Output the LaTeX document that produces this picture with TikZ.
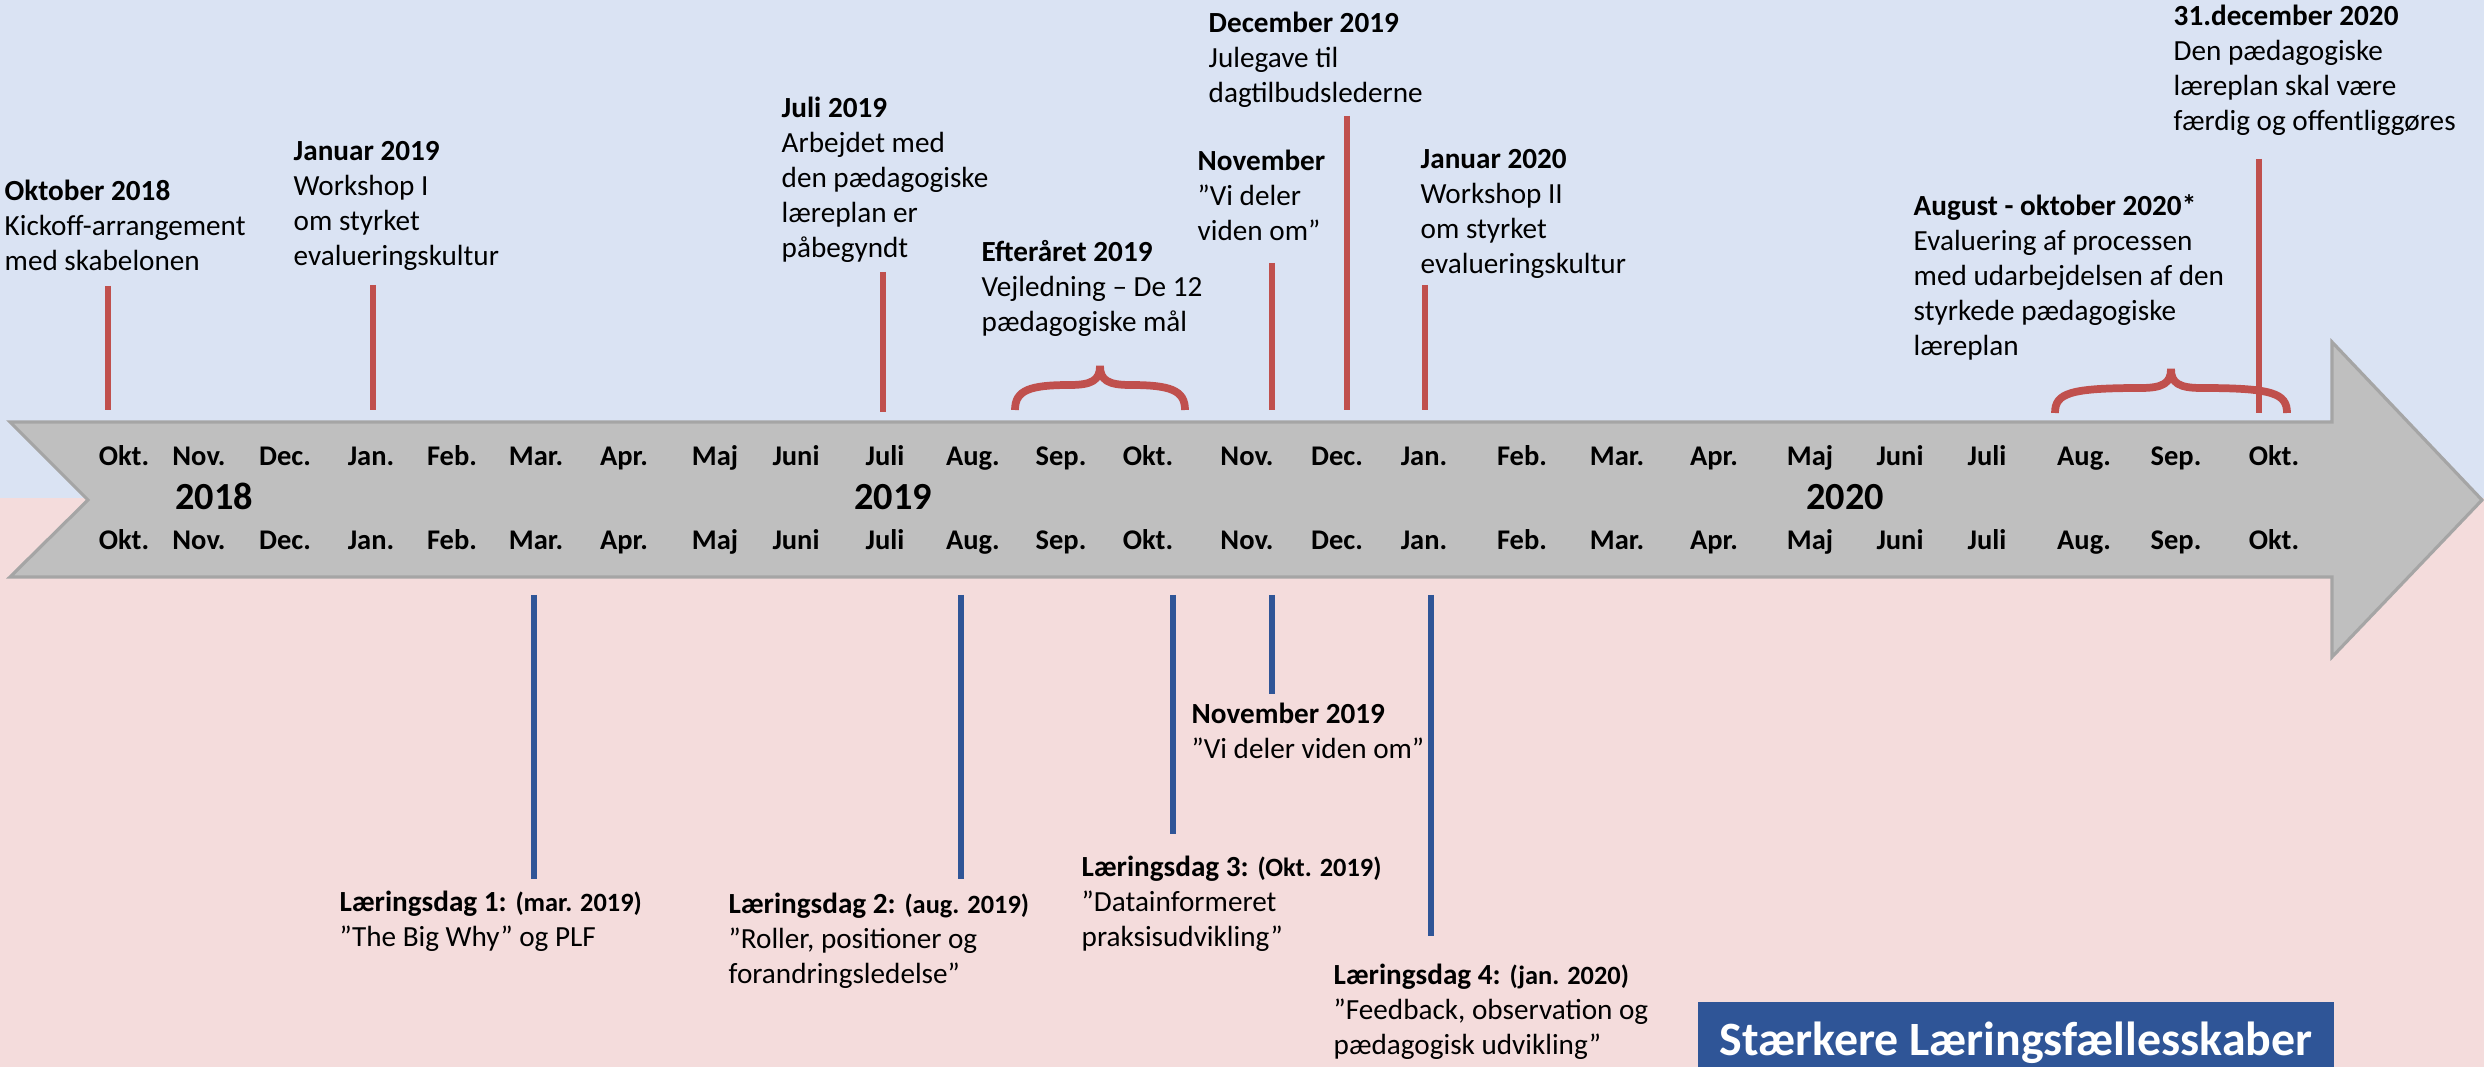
\documentclass[tikz,border=0pt]{standalone}
\usepackage{fontspec}
\setmainfont{Carlito}
\usepackage{tikz}
\usetikzlibrary{positioning}
\usepackage{xcolor}

\definecolor{bgblue}{HTML}{DAE3F3}
\definecolor{bgpink}{HTML}{F4DCDC}
\definecolor{tickred}{HTML}{C0504D}
\definecolor{tickblue}{HTML}{2F5597}
\definecolor{arrowgray}{HTML}{BFBFBF}
\definecolor{arrowedge}{HTML}{A5A5A5}

\newcommand{\daydate}[1]{{\bfseries\fontsize{7.5}{9}\selectfont#1}}

\tikzset{
  event/.style={anchor=north west, inner sep=0pt, align=left,
                font=\fontsize{8.3}{9.96}\selectfont},
  month/.style={anchor=base, inner sep=0pt, font=\fontsize{8.1}{9}\selectfont\bfseries},
  year/.style={anchor=base, inner sep=0pt, font=\fontsize{10.9}{12}\selectfont\bfseries},
  redtick/.style={draw=tickred, line width=1.6pt},
  bluetick/.style={draw=tickblue, line width=1.6pt},
  pics/curlybrace/.style={code={
    \draw[tickred, line width=2.2pt]
      (-#1,0) .. controls (-#1,-20) and (-#1+15,-25) .. (-30,-25)
      .. controls (-8,-25) and (0,-30) .. (0,-44)
      .. controls (0,-30) and (8,-25) .. (30,-25)
      .. controls (#1-15,-25) and (#1,-20) .. (#1,0);
  }},
}

\begin{document}
\begin{tikzpicture}[x=0.01cm, y=-0.01cm]
\useasboundingbox (0,0) rectangle (2484,1067);
\clip (0,0) rectangle (2484,1067);
%
\fill[bgblue] (0,0) rectangle (2484,498);
\fill[bgpink] (0,498) rectangle (2484,1067);

% time arrow
\draw[fill=arrowgray, draw=arrowedge, line width=0.9pt]
  (10,422) -- (2332,422) -- (2332,342) -- (2482,500) -- (2332,657)
  -- (2332,577) -- (10,577) -- (88,500) -- cycle;

\foreach \x/\m in {124/Okt., 199/Nov., 285/Dec., 371/Jan., 452/Feb., 536/Mar.,
                   624/Apr., 715/Maj, 796/Juni, 885/Juli, 973/Aug., 1061/Sep.,
                   1148/Okt., 1247/Nov., 1337/Dec., 1424/Jan., 1522/Feb., 1617/Mar.,
                   1714/Apr., 1810/Maj, 1900/Juni, 1987/Juli, 2084/Aug., 2176/Sep.,
                   2274/Okt.}
{
  \node[month] (mt-\x) at (\x,466) {\m};
  \node[month] (mb-\x) at (\x,550) {\m};
}
\node[year] (y2018) at (214,510) {2018};
\node[year] (y2019) at (893,510) {2019};
\node[year] (y2020) at (1845,510) {2020};

% above the arrow
\node[event] (okt18) at (4,179) {\textbf{Oktober 2018}\\Kickoff-arrangement\\med skabelonen};
\node[event] (jan19) at (293,141) {\textbf{Januar 2019}\\Workshop I\\om styrket\\evalueringskultur};
\node[event] (jul19) at (781,96) {\textbf{Juli 2019}\\Arbejdet med\\den pædagogiske\\læreplan er\\påbegyndt};
\node[event] (eft19) at (981,240) {\textbf{Efteråret 2019}\\Vejledning – De 12\\pædagogiske mål};
\node[event] (nov19) at (1197,149) {\textbf{November}\\”Vi deler\\viden om”};
\node[event] (dec19) at (1208,11) {\textbf{December 2019}\\Julegave til\\dagtilbudslederne};
\node[event] (jan20) at (1420,149) {\textbf{Januar 2020}\\Workshop II\\om styrket\\evalueringskultur};
\node[event] (aug20) at (1913,194) {\textbf{August - oktober 2020*}\\Evaluering af processen\\med udarbejdelsen af den\\styrkede pædagogiske\\læreplan};
\node[event] (dec20) at (2173,4) {\textbf{31.december 2020}\\Den pædagogiske\\læreplan skal være\\færdig og offentliggøres};

\foreach \name/\x/\ya/\yb in {okt18/108/286/410, jan19/373/285/410, jul19/883/272/412,
                               nov19/1272/263/410, dec19/1347/116/410, jan20/1425/285/410,
                               dec20/2259/159/413}
{
  \coordinate (\name-a) at (\x,\ya);
  \coordinate (\name-b) at (\x,\yb);
  \draw[redtick] (\name-a) -- (\name-b);
}
\pic (eft19-brace) at (1100,410) {curlybrace=85};
\pic (aug20-brace) at (2171,413) {curlybrace=116};

% below the arrow
\node[event] (ld1) at (339,890) {\textbf{Læringsdag 1:} \daydate{(mar. 2019)}\\”The Big Why” og PLF};
\node[event] (ld2) at (728,892) {\textbf{Læringsdag 2:} \daydate{(aug. 2019)}\\”Roller, positioner og\\forandringsledelse”};
\node[event] (ld3) at (1081,855) {\textbf{Læringsdag 3:} \daydate{(Okt. 2019)}\\”Datainformeret\\praksisudvikling”};
\node[event] (vdv19) at (1191,702) {\textbf{November 2019}\\”Vi deler viden om”};
\node[event] (ld4) at (1333,963) {\textbf{Læringsdag 4:} \daydate{(jan. 2020)}\\”Feedback, observation og\\pædagogisk udvikling”};

\foreach \name/\x/\yb in {ld1/534/879, ld2/961/879, ld3/1173/834, vdv19/1272/694, ld4/1431/936}
{
  \coordinate (\name-a) at (\x,595);
  \coordinate (\name-b) at (\x,\yb);
  \draw[bluetick] (\name-a) -- (\name-b);
}

\node[fill=tickblue, text=white, font=\fontsize{13.6}{16}\selectfont\bfseries,
      anchor=base, minimum width=6.35cm, text height=0.53cm, text depth=0.3cm,
      inner sep=0pt] (motto) at (2016,1055) {Stærkere Læringsfællesskaber};
%
\end{tikzpicture}
\end{document}
